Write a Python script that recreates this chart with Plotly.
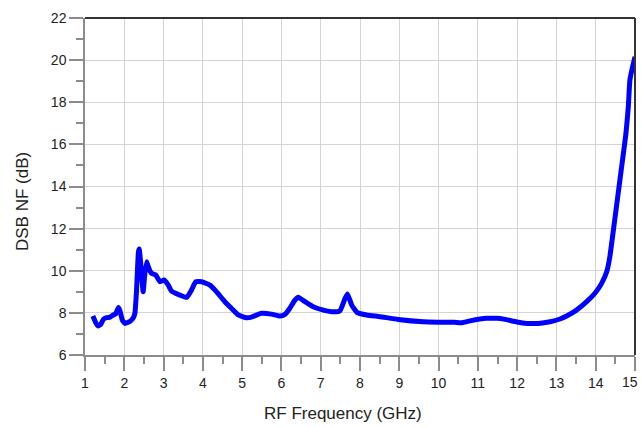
import plotly.graph_objects as go

freq_ghz = [1.20, 1.27, 1.33, 1.40, 1.47, 1.55, 1.64, 1.72, 1.78, 1.85, 1.89, 1.95, 2.02,
            2.15, 2.23, 2.27, 2.31, 2.36, 2.38, 2.42, 2.48, 2.52, 2.57, 2.61, 2.69, 2.80,
            2.91, 3.01, 3.12, 3.20, 3.37, 3.59, 3.71, 3.82, 3.97, 4.18, 4.35, 4.56, 4.73,
            4.90, 5.11, 5.24, 5.49, 5.75, 5.96, 6.09, 6.21, 6.34, 6.43, 6.60, 6.81, 7.07,
            7.32, 7.49, 7.62, 7.68, 7.79, 7.93, 8.17, 8.51, 8.97, 9.61, 10.00, 10.40,
            10.58, 10.80, 11.22, 11.48, 11.69, 11.99, 12.24, 12.54, 12.84, 13.09, 13.26,
            13.51, 13.77, 13.98, 14.15, 14.28, 14.36, 14.45, 14.55, 14.66, 14.77, 14.83,
            14.87, 14.94, 15.00]
nf_db = [7.85, 7.55, 7.38, 7.45, 7.70, 7.77, 7.80, 7.90, 7.95, 8.25, 8.10, 7.66, 7.50,
         7.60, 7.77, 7.98, 9.00, 10.90, 11.03, 10.30, 9.00, 9.80, 10.43, 10.20, 9.88, 9.80,
         9.48, 9.56, 9.32, 9.04, 8.88, 8.74, 9.08, 9.48, 9.48, 9.32, 9.00, 8.53, 8.21,
         7.90, 7.77, 7.80, 7.98, 7.94, 7.85, 7.93, 8.21, 8.60, 8.74, 8.53, 8.29, 8.13,
         8.05, 8.10, 8.69, 8.90, 8.37, 8.01, 7.90, 7.82, 7.69, 7.58, 7.56, 7.55,
         7.53, 7.62, 7.74, 7.74, 7.69, 7.57, 7.50, 7.50, 7.58, 7.71, 7.85,
         8.13, 8.53, 8.93, 9.40, 9.95, 10.67, 11.93, 13.36, 14.94, 16.52, 17.79,
         19.05, 19.69, 20.16]

x_ticks = list(range(1, 16))
x_tick_labels = [str(v) for v in x_ticks]
y_ticks = list(range(6, 23, 2))
x_title = "RF Frequency (GHz)"
y_title = "DSB NF (dB)"

W, H = 641, 427
L, R, T, B = 85, 6, 18, 72

fig = go.Figure()
fig.add_trace(go.Scatter(x=freq_ghz, y=nf_db, mode="lines",
                         line=dict(color="#0000FF", width=5, shape="spline", smoothing=0.4),
                         showlegend=False))

font_family = "Liberation Sans, Arial, sans-serif"
axis_font = dict(family=font_family, size=14, color="#222")
common = dict(showline=True, linecolor="#8c8c8c", linewidth=1.5,
              ticks="outside", ticklen=14, tickwidth=1.5, tickcolor="#8c8c8c",
              showgrid=True, gridcolor="#d4d4d4", gridwidth=1.2,
              zeroline=False, tickfont=axis_font, automargin=False)

# last x label is drawn as an annotation so it stays inside the page
fig.update_xaxes(range=[1, 15], tickvals=x_ticks,
                 ticktext=x_tick_labels[:-1] + [""], **common,
                 minor=dict(ticks="outside", ticklen=7, tickwidth=1.5, tickcolor="#8c8c8c",
                            dtick=0.5, showgrid=False))
fig.update_yaxes(range=[6, 22], tickvals=y_ticks, **common,
                 minor=dict(ticks="outside", ticklen=7, tickwidth=1.5, tickcolor="#8c8c8c",
                            dtick=1, showgrid=False))

fig.add_shape(type="line", xref="paper", yref="paper", x0=0, x1=1, y0=1, y1=1,
              line=dict(color="#333333", width=2))
fig.add_shape(type="line", xref="paper", yref="paper", x0=1, x1=1, y0=0, y1=1,
              line=dict(color="#333333", width=2))

pw, ph = W - L - R, H - T - B
fig.add_annotation(text=x_tick_labels[-1], xref="paper", yref="paper",
                   x=(W - 1 - L) / pw, y=-(382 - (H - B)) / ph,
                   showarrow=False, font=axis_font, xanchor="right", yanchor="middle")

title_font = dict(family=font_family, size=17, color="#222")
fig.add_annotation(text=x_title, xref="paper", yref="paper",
                   x=(343 - L) / pw, y=-(413 - (H - B)) / ph,
                   showarrow=False, font=title_font, xanchor="center", yanchor="middle")
fig.add_annotation(text=y_title, xref="paper", yref="paper",
                   x=-(L - 22) / pw, y=1 - (202 - T) / ph, textangle=-90,
                   showarrow=False, font=title_font, xanchor="center", yanchor="middle")

fig.update_layout(width=W, height=H, margin=dict(l=L, r=R, t=T, b=B, autoexpand=False),
                  plot_bgcolor="white", paper_bgcolor="white")

fig.write_html("out.html")
